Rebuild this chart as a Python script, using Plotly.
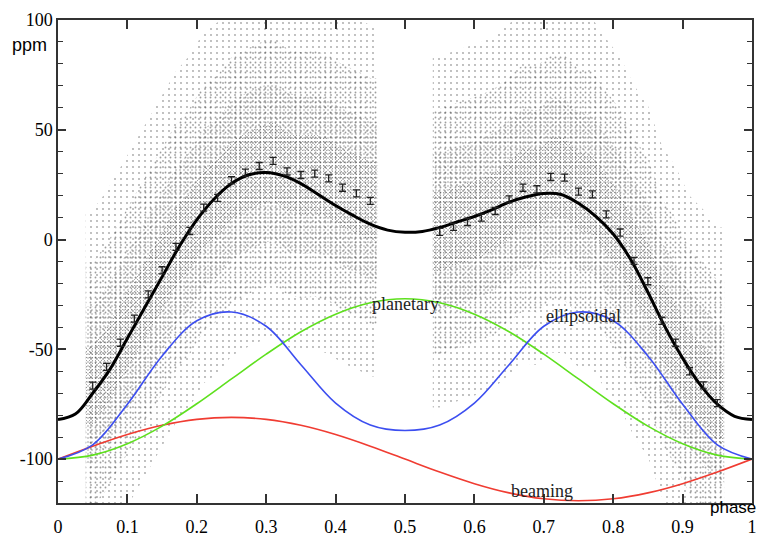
import plotly.graph_objects as go

# ---------------- data ----------------
# model curves (ppm) on a regular phase grid
phase_fine = [0.0, 0.025, 0.05, 0.075, 0.1, 0.125, 0.15, 0.175, 0.2, 0.225, 0.25,
              0.275, 0.3, 0.325, 0.35, 0.375, 0.4, 0.425, 0.45, 0.475, 0.5,
              0.525, 0.55, 0.575, 0.6, 0.625, 0.65, 0.675, 0.7, 0.725, 0.75,
              0.775, 0.8, 0.825, 0.85, 0.875, 0.9, 0.925, 0.95, 0.975, 1.0]
total_model = [-82, -79.5, -70, -59, -45, -31, -17, -3, 9, 18.5, 25.5,
               29.5, 30.5, 29, 25.5, 20.5, 15.5, 11, 7, 4.3, 3.3,
               3.7, 5.5, 8, 10.5, 13.5, 17, 19.5, 21, 20.5, 16.5,
               10.5, 2.5, -9, -24, -40, -54, -66, -75, -80.5, -82]

phase_coarse = [0.0, 0.05, 0.1, 0.15, 0.2, 0.25, 0.3, 0.35, 0.4, 0.45, 0.5,
                0.55, 0.6, 0.65, 0.7, 0.75, 0.8, 0.85, 0.9, 0.95, 1.0]
ellipsoidal = [-100, -93.5, -75, -53, -37, -33, -39.5, -57, -74.5, -84.5, -87,
               -84.5, -74.5, -57, -39.5, -33, -37, -53, -75, -93.5, -100]
planetary = [-100, -98.2, -93.0, -85.0, -74.8, -63.5, -52.2, -42.0, -34.0, -28.8, -27,
             -28.8, -34.0, -42.0, -52.2, -63.5, -74.8, -85.0, -93.0, -98.2, -100]
beaming = [-100, -94.1, -88.8, -84.6, -81.9, -81, -81.9, -84.6, -88.8, -94.1, -100,
           -105.9, -111.2, -115.4, -118.1, -119, -118.1, -115.4, -111.2, -105.9, -100]

# binned data points with error bars
bin_phase_1 = [0.05, 0.07, 0.09, 0.11, 0.13, 0.15, 0.17, 0.19, 0.21, 0.23, 0.25,
               0.27, 0.29, 0.31, 0.33, 0.35, 0.37, 0.39, 0.41, 0.43, 0.45]
bin_flux_1 = [-66.5, -58, -47, -36, -25, -14, -3.3, 3.9, 14.5, 19, 27,
              30.5, 33.5, 35.8, 31, 29.4, 30, 27.9, 23.6, 21, 17.6]
bin_phase_2 = [0.55, 0.57, 0.59, 0.61, 0.63, 0.65, 0.67, 0.69, 0.71, 0.73, 0.75,
               0.77, 0.79, 0.81, 0.83, 0.85, 0.87, 0.89, 0.91, 0.93, 0.95]
bin_flux_2 = [3.5, 5.8, 8, 10, 13, 18.3, 23.6, 22.9, 28.5, 28.2, 21.8,
              20.6, 11.5, 3.2, -9.7, -19, -37, -47, -60, -66.4, -74.5]
bin_err = 1.6

# extent of the raw-data cloud (phase) and its spread (ppm)
cloud_edges_1 = [0.04, 0.46]
cloud_edges_2 = [0.54, 0.96]
cloud_spread = [80, 56, 36, 18]

x_ticks = [0, 0.1, 0.2, 0.3, 0.4, 0.5, 0.6, 0.7, 0.8, 0.9, 1]
x_tick_labels = ["0", "0.1", "0.2", "0.3", "0.4", "0.5", "0.6", "0.7", "0.8", "0.9", "1"]
y_ticks = [-100, -50, 0, 50, 100]
y_tick_labels = ["-100", "-50", "0", "50", "100"]

# ---------------- figure ----------------
fig = go.Figure()

pattern_styles = [
    dict(size=6, solidity=0.07, fgcolor="#4a4a4a"),
    dict(size=5, solidity=0.11, fgcolor="#3c3c3c"),
    dict(size=4, solidity=0.13, fgcolor="#333333"),
    dict(size=3, solidity=0.12, fgcolor="#2a2a2a"),
]


def band(xs, ys, edges, w):
    px = [edges[0]] + xs + [edges[1]]
    py = [ys[0]] + ys + [ys[-1]]
    hi = [v + w for v in py]
    lo = [v - w for v in py]
    return px + px[::-1], hi + lo[::-1]


for w, pst in zip(cloud_spread, pattern_styles):
    for xs, ys, edges in [(bin_phase_1, bin_flux_1, cloud_edges_1),
                          (bin_phase_2, bin_flux_2, cloud_edges_2)]:
        bx, by = band(xs, ys, edges, w)
        fig.add_trace(go.Scatter(
            x=bx, y=by, mode="lines", line=dict(width=0, color="rgba(0,0,0,0)"),
            fill="toself", fillcolor="rgba(0,0,0,0)",
            fillpattern=dict(shape=".", bgcolor="rgba(0,0,0,0)", **pst),
            showlegend=False, hoverinfo="skip"))

fig.add_trace(go.Scatter(x=phase_coarse, y=beaming, mode="lines",
                         line=dict(color="#f03c32", width=1.6, shape="spline"),
                         showlegend=False))
fig.add_trace(go.Scatter(x=phase_coarse, y=planetary, mode="lines",
                         line=dict(color="#5ee01e", width=1.6, shape="spline"),
                         showlegend=False))
fig.add_trace(go.Scatter(x=phase_coarse, y=ellipsoidal, mode="lines",
                         line=dict(color="#3c4ef0", width=1.6, shape="spline"),
                         showlegend=False))
fig.add_trace(go.Scatter(x=phase_fine, y=total_model, mode="lines",
                         line=dict(color="black", width=3, shape="spline"),
                         showlegend=False))
for xs, ys in [(bin_phase_1, bin_flux_1), (bin_phase_2, bin_flux_2)]:
    fig.add_trace(go.Scatter(
        x=xs, y=ys, mode="markers",
        marker=dict(size=1, color="#222"),
        error_y=dict(type="constant", value=bin_err, color="#222", thickness=1.3, width=3.5),
        showlegend=False))

serif = "Liberation Serif, Times New Roman, serif"
sans = "Liberation Sans, Arial, sans-serif"

fig.add_annotation(x=0.5, y=-29.5, text="planetary", showarrow=False,
                   font=dict(family=serif, size=18, color="#222"), xref="x", yref="y")
fig.add_annotation(x=0.757, y=-35, text="ellipsoidal", showarrow=False,
                   font=dict(family=serif, size=18, color="#222"), xref="x", yref="y")
fig.add_annotation(x=0.697, y=-114.5, text="beaming", showarrow=False,
                   font=dict(family=serif, size=18, color="#222"), xref="x", yref="y")
fig.add_annotation(x=-0.041, y=0.948, text="ppm", showarrow=False,
                   xanchor="center", yanchor="middle",
                   font=dict(family=sans, size=18, color="black"), xref="paper", yref="paper")
fig.add_annotation(x=0.973, y=-0.010, text="phase", showarrow=False,
                   xanchor="center", yanchor="middle",
                   font=dict(family=sans, size=17, color="black"), xref="paper", yref="paper")

axis_common = dict(showgrid=False, zeroline=False, showline=True, linecolor="#333",
                   linewidth=1.5, mirror="allticks", ticks="inside", tickcolor="#333",
                   tickwidth=1.5, automargin=False,
                   tickfont=dict(family=serif, size=18, color="black"))

fig.update_xaxes(range=[0, 1], tickmode="array", tickvals=x_ticks, ticktext=x_tick_labels,
                 ticklen=9, ticklabelstandoff=7, **axis_common)
fig.update_yaxes(range=[-120, 100], tickmode="array", tickvals=y_ticks, ticktext=y_tick_labels,
                 ticklen=8, minor=dict(ticks="inside", dtick=10, ticklen=5, tickcolor="#333",
                                       tickwidth=1.2, showgrid=False),
                 **axis_common)

# page body adds an 8 px offset, so the figure is sized to fit the 764x536 window
fig.update_layout(width=756, height=528, margin=dict(l=50, r=12, t=12, b=33),
                  plot_bgcolor="white", paper_bgcolor="white", showlegend=False)

fig.write_html("out.html")
